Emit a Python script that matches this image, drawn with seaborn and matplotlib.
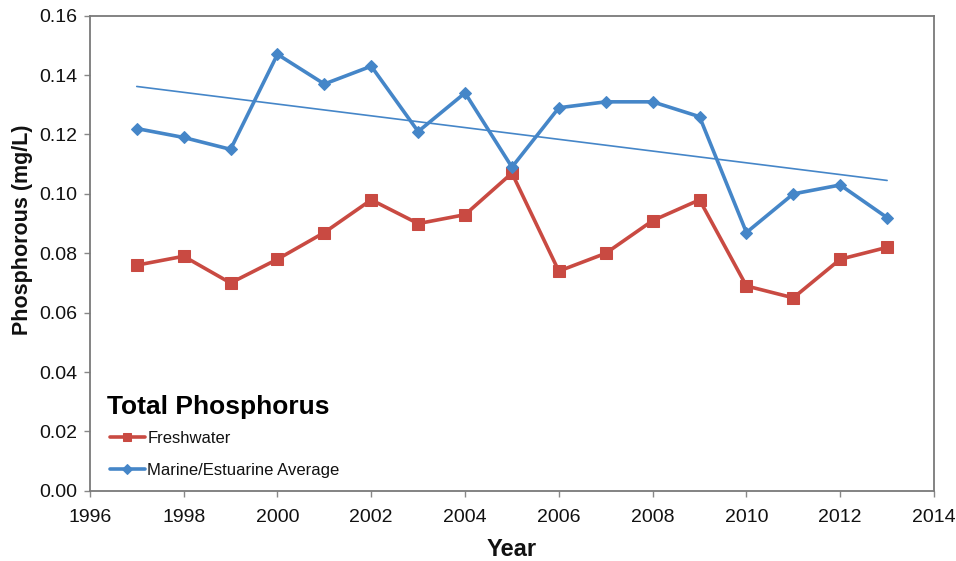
import numpy as np
import pandas as pd
import matplotlib
matplotlib.use("Agg")
import matplotlib.pyplot as plt
import seaborn as sns

# DATA

years = list(range(1997, 2014))
freshwater = [0.076, 0.079, 0.070, 0.078, 0.087, 0.098, 0.090, 0.093, 0.107,
              0.074, 0.080, 0.091, 0.098, 0.069, 0.065, 0.078, 0.082]
marine = [0.122, 0.119, 0.115, 0.147, 0.137, 0.143, 0.121, 0.134, 0.109,
          0.129, 0.131, 0.131, 0.126, 0.087, 0.100, 0.103, 0.092]
x_ticks = list(range(1996, 2015, 2))
y_ticks = [0.00, 0.02, 0.04, 0.06, 0.08, 0.10, 0.12, 0.14, 0.16]

df = pd.DataFrame({"Year": years, "Freshwater": freshwater, "Marine": marine})

RED = "#C94A42"
BLUE = "#4586C8"

sns.set_theme(style="white")
plt.rcParams["font.family"] = ["Liberation Sans", "DejaVu Sans"]

fig = plt.figure(figsize=(9.56, 5.61), dpi=100)
ax = fig.add_axes([0.094, 0.125, 0.883, 0.847])

sns.lineplot(data=df, x="Year", y="Freshwater", ax=ax, color=RED, lw=2.6,
             marker="s", markersize=8, markeredgecolor=RED, label="Freshwater")
sns.lineplot(data=df, x="Year", y="Marine", ax=ax, color=BLUE, lw=2.6,
             marker="D", markersize=6.5, markeredgecolor=BLUE,
             label="Marine/Estuarine Average")

# linear trendline for marine series
slope, intercept = np.polyfit(df["Year"], df["Marine"], 1)
trend = pd.DataFrame({"Year": [years[0], years[-1]]})
trend["Trend"] = slope * trend["Year"] + intercept
sns.lineplot(data=trend, x="Year", y="Trend", ax=ax, color=BLUE, lw=1.2,
             legend=False)

ax.set_xlim(1996, 2014)
ax.set_ylim(0, 0.16)
ax.set_xticks(x_ticks)
ax.set_yticks(y_ticks)
ax.set_yticklabels([f"{v:.2f}" for v in y_ticks])
ax.tick_params(axis="both", labelsize=14, colors="#888888", labelcolor="#111111",
               length=4, width=1, direction="out", bottom=True, left=True)
ax.tick_params(axis="x", pad=9)
ax.tick_params(axis="y", pad=5)

for s in ax.spines.values():
    s.set_color("#7a7a7a")
    s.set_linewidth(1.3)

ax.set_xlabel("Year", fontsize=17, fontweight="bold", color="#111111")
ax.set_ylabel("Phosphorous (mg/L)", fontsize=15.5, fontweight="bold",
              color="#111111")
ax.xaxis.set_label_coords(0.5, -0.1)
ax.yaxis.set_label_coords(-0.067, 0.55)

# legend block: bold heading + two entries
ax.text(0.02, 0.177, "Total Phosphorus", transform=ax.transAxes,
        fontsize=19, fontweight="bold", color="#000000", ha="left", va="center")
leg = ax.legend(loc="lower left", bbox_to_anchor=(0.006, -0.0036), frameon=False,
                fontsize=12, handlelength=2.1, handletextpad=0.15,
                labelspacing=1.0, markerscale=0.8)
for t in leg.get_texts():
    t.set_color("#111111")

fig.savefig("out.png", dpi=100)
